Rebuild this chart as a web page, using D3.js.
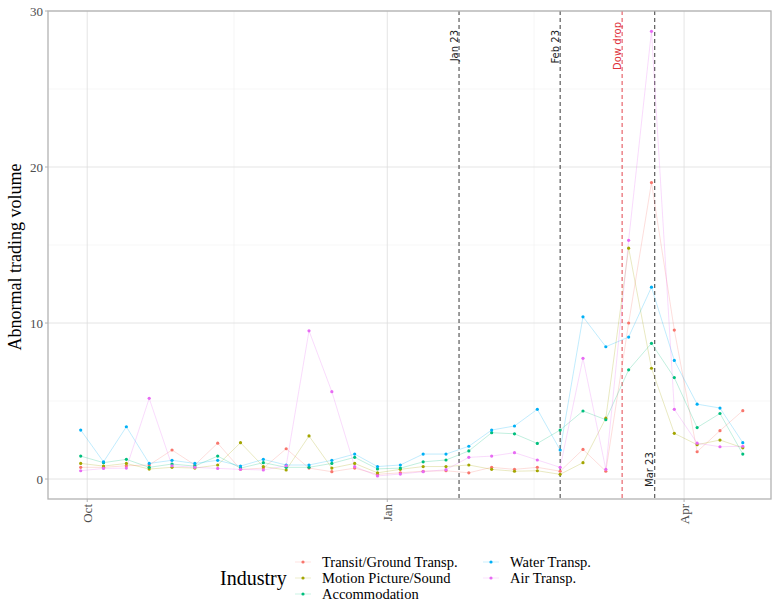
<!DOCTYPE html>
<html>
<head>
<meta charset="utf-8">
<script src="https://cdn.jsdelivr.net/npm/d3@7"></script>
<style>
  html, body { margin: 0; padding: 0; background: #fff; }
  svg { display: block; }
</style>
</head>
<body>
<svg id="chart" width="775" height="613"></svg>
<script>
// Weekly observation dates (Sunday of each week)
const weeks = [
  "2019-09-29","2019-10-06","2019-10-13","2019-10-20","2019-10-27",
  "2019-11-03","2019-11-10","2019-11-17","2019-11-24","2019-12-01",
  "2019-12-08","2019-12-15","2019-12-22","2019-12-29","2020-01-05",
  "2020-01-12","2020-01-19","2020-01-26","2020-02-02","2020-02-09",
  "2020-02-16","2020-02-23","2020-03-01","2020-03-08","2020-03-15",
  "2020-03-22","2020-03-29","2020-04-05","2020-04-12","2020-04-19"
];

const industries = ["Transit/Ground Transp.", "Motion Picture/Sound", "Accommodation", "Water Transp.", "Air Transp."];
const industryColors = ["#F8766D", "#A3A500", "#00BF7D", "#00B0F6", "#E76BF3"];

// Abnormal trading volume by industry
const transitVol = [0.75,0.75,0.85,0.9,1.86,0.9,2.3,0.62,0.7,1.94,0.7,0.47,0.7,0.3,0.4,0.5,0.53,0.4,0.75,0.62,0.75,0.5,1.9,0.5,10.0,19.0,9.55,1.75,3.1,4.38];
const motionVol  = [1.0,0.83,1.0,0.64,0.75,0.7,0.9,2.33,0.8,0.58,2.76,0.7,1.0,0.4,0.62,0.8,0.8,0.9,0.62,0.5,0.53,0.3,1.05,3.9,14.8,7.1,2.93,2.2,2.5,2.0];
const accomVol   = [1.47,1.05,1.26,0.75,0.96,0.83,1.47,0.7,1.05,0.75,0.75,1.0,1.39,0.65,0.7,1.1,1.22,1.8,2.97,2.9,2.28,3.14,4.36,3.8,7.0,8.7,6.5,3.3,4.2,1.6];
const waterVol   = [3.14,1.1,3.35,1.0,1.2,1.0,1.2,0.83,1.26,0.9,0.9,1.2,1.6,0.8,0.9,1.6,1.6,2.1,3.14,3.4,4.47,1.86,10.4,8.48,9.1,12.3,7.6,4.8,4.55,2.33];
const airVol     = [0.53,0.68,0.7,5.17,0.85,0.75,0.68,0.62,0.58,0.85,9.5,5.6,0.8,0.2,0.32,0.47,0.6,1.39,1.47,1.69,1.22,0.75,7.74,0.62,15.3,28.7,4.47,2.3,2.07,2.1];

// Event markers
const eventDates  = ["2020-01-23", "2020-02-23", "2020-03-13", "2020-03-23"];
const eventLabels = ["Jan 23", "Feb 23", "Dow drop", "Mar 23"];
const eventColors = ["#222", "#222", "#E0303A", "#222"];

const yTicks = [0, 10, 20, 30];
const xTickDates = ["2019-10-01", "2020-01-01", "2020-04-01"];
const xTickLabels = ["Oct", "Jan", "Apr"];

const seriesValues = [transitVol, motionVol, accomVol, waterVol, airVol];

const parse = d3.utcParse("%Y-%m-%d");
const dates = weeks.map(parse);

const svg = d3.select("#chart");
const serif = "'Liberation Serif', 'Times New Roman', serif";

const panel = { left: 48, right: 771, top: 11, bottom: 499 };

const x = d3.scaleUtc()
  .domain([dates[0], dates[dates.length - 1]])
  .range([80.7, 742.8]);

const y = d3.scaleLinear()
  .domain([-1.28, 30])
  .range([panel.bottom, panel.top]);

// Grid: minor lines
const g = svg.append("g");
const minorY = [5, 15, 25];
g.selectAll("line.minory").data(minorY).join("line")
  .attr("x1", panel.left).attr("x2", panel.right)
  .attr("y1", d => y(d)).attr("y2", d => y(d))
  .attr("stroke", "#ececec").attr("stroke-width", 0.5);
const minorX = ["2019-11-15", "2020-02-15"].map(parse);
g.selectAll("line.minorx").data(minorX).join("line")
  .attr("x1", d => x(d)).attr("x2", d => x(d))
  .attr("y1", panel.top).attr("y2", panel.bottom)
  .attr("stroke", "#ececec").attr("stroke-width", 0.5);

// Grid: major lines
g.selectAll("line.majory").data(yTicks).join("line")
  .attr("x1", panel.left).attr("x2", panel.right)
  .attr("y1", d => y(d)).attr("y2", d => y(d))
  .attr("stroke", "#dedede").attr("stroke-width", 0.8);
g.selectAll("line.majorx").data(xTickDates.map(parse)).join("line")
  .attr("x1", d => x(d)).attr("x2", d => x(d))
  .attr("y1", panel.top).attr("y2", panel.bottom)
  .attr("stroke", "#dedede").attr("stroke-width", 0.8);

// Event lines
const ev = svg.append("g");
eventDates.forEach((d, i) => {
  const xe = x(parse(d));
  ev.append("line")
    .attr("x1", xe).attr("x2", xe)
    .attr("y1", panel.top).attr("y2", panel.bottom)
    .attr("stroke", eventColors[i])
    .attr("stroke-width", 0.9)
    .attr("stroke-dasharray", "4,3");
});

// Series lines and points
const lineGen = d3.line()
  .x((d, i) => x(dates[i]))
  .y(d => y(d));

const series = svg.append("g");
seriesValues.forEach((vals, s) => {
  series.append("path")
    .attr("d", lineGen(vals))
    .attr("fill", "none")
    .attr("stroke", industryColors[s])
    .attr("stroke-opacity", 0.35)
    .attr("stroke-width", 0.7);
});
seriesValues.forEach((vals, s) => {
  series.selectAll(null).data(vals).join("circle")
    .attr("cx", (d, i) => x(dates[i]))
    .attr("cy", d => y(d))
    .attr("r", 1.6)
    .attr("fill", industryColors[s]);
});

// Event labels
const evLabels = svg.append("g")
  .attr("font-family", "'DejaVu Sans', sans-serif")
  .attr("font-size", 10);
eventDates.forEach((d, i) => {
  const xe = x(parse(d)) - 5;
  const last = i === 3;
  const yy = last ? 487 : (i === 2 ? 22 : 30);
  evLabels.append("text")
    .attr("transform", `translate(${xe},${yy}) rotate(-90)`)
    .attr("text-anchor", last ? "start" : "end")
    .attr("dy", "0.35em")
    .attr("fill", eventColors[i])
    .text(eventLabels[i]);
});

// Panel border
svg.append("rect")
  .attr("x", panel.left).attr("y", panel.top)
  .attr("width", panel.right - panel.left)
  .attr("height", panel.bottom - panel.top)
  .attr("fill", "none")
  .attr("stroke", "#b3b3b3")
  .attr("stroke-width", 1.3);

// Y axis ticks and labels
const yAxis = svg.append("g").attr("font-family", serif);
yAxis.selectAll("line").data(yTicks).join("line")
  .attr("x1", panel.left - 3).attr("x2", panel.left)
  .attr("y1", d => y(d)).attr("y2", d => y(d))
  .attr("stroke", "#b3b3b3");
yAxis.selectAll("text").data(yTicks).join("text")
  .attr("x", panel.left - 5)
  .attr("y", d => y(d))
  .attr("dy", "0.35em")
  .attr("text-anchor", "end")
  .attr("font-size", 13)
  .attr("fill", "#4d4d4d")
  .text(d => d);

// X axis ticks and labels
const xAxis = svg.append("g").attr("font-family", serif);
xAxis.selectAll("line").data(xTickDates).join("line")
  .attr("x1", d => x(parse(d))).attr("x2", d => x(parse(d)))
  .attr("y1", panel.bottom).attr("y2", panel.bottom + 3)
  .attr("stroke", "#b3b3b3");
xAxis.selectAll("text").data(xTickDates).join("text")
  .attr("transform", d => `translate(${x(parse(d))},${panel.bottom + 5}) rotate(-90)`)
  .attr("text-anchor", "end")
  .attr("dy", "0.35em")
  .attr("font-size", 13)
  .attr("fill", "#4d4d4d")
  .text((d, i) => xTickLabels[i]);

// Y axis title
svg.append("text")
  .attr("transform", `translate(21,${(panel.top + panel.bottom) / 2 + 2}) rotate(-90)`)
  .attr("text-anchor", "middle")
  .attr("font-family", serif)
  .attr("font-size", 18)
  .attr("fill", "#000")
  .text("Abnormal trading volume");

// Legend
const legend = svg.append("g").attr("font-family", serif);
legend.append("text")
  .attr("x", 220).attr("y", 585)
  .attr("font-size", 20)
  .text("Industry");
const legendPos = [[303, 562], [303, 578], [303, 594], [491, 562], [491, 578]];
industries.forEach((name, i) => {
  const [lx, ly] = legendPos[i];
  legend.append("line")
    .attr("x1", lx - 8).attr("x2", lx + 8)
    .attr("y1", ly).attr("y2", ly)
    .attr("stroke", industryColors[i])
    .attr("stroke-opacity", 0.3)
    .attr("stroke-width", 0.7);
  legend.append("circle")
    .attr("cx", lx).attr("cy", ly).attr("r", 1.6)
    .attr("fill", industryColors[i]);
  legend.append("text")
    .attr("x", lx + 19).attr("y", ly)
    .attr("dy", "0.35em")
    .attr("font-size", 14.5)
    .text(name);
});
</script>
</body>
</html>
